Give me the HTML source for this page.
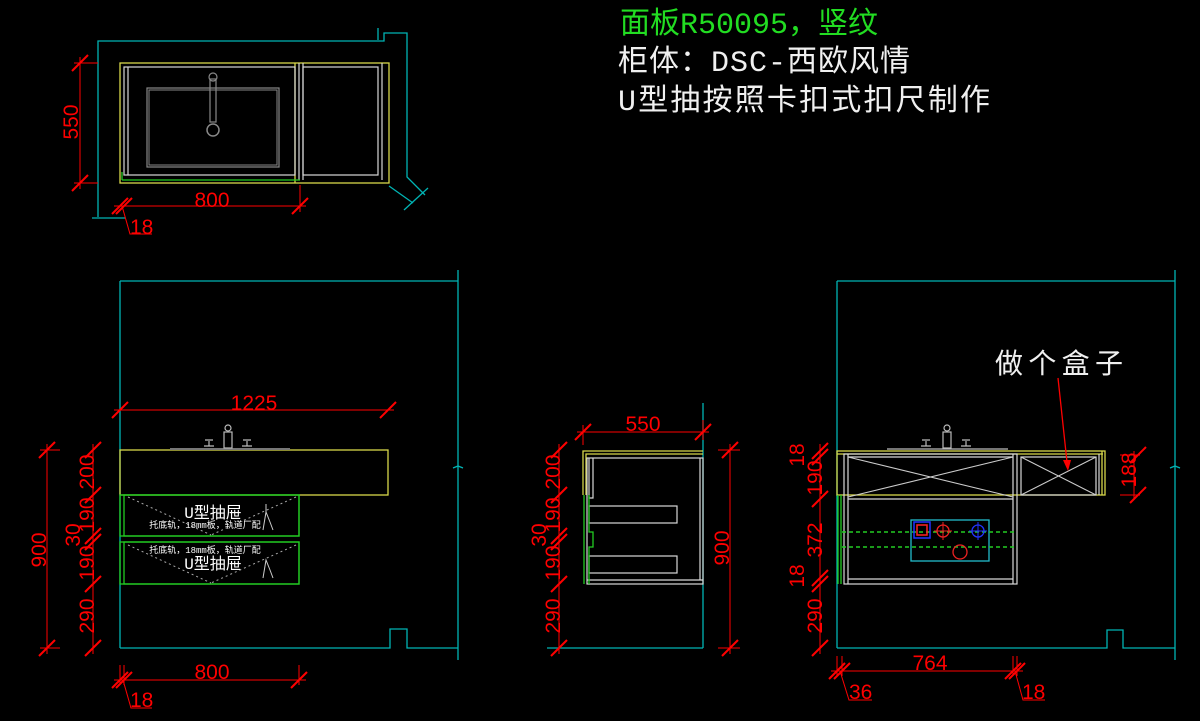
<!DOCTYPE html>
<html><head><meta charset="utf-8"><style>
html,body{margin:0;padding:0;background:#000;}
svg{display:block}
.r{stroke:#ff0000;stroke-width:1;fill:none}
.c{stroke:#00b4b4;stroke-width:1.3;fill:none}
.y{stroke:#d8d84a;stroke-width:1.3;fill:none}
.g{stroke:#22cc22;stroke-width:1.3;fill:none}
.w{stroke:#d8d8d8;stroke-width:1.2;fill:none}
.dt{fill:#ff0000;font-family:"Liberation Sans",sans-serif;font-size:21px}
.cn{font-family:"Liberation Mono","Noto Sans CJK SC",monospace;}
</style></head><body>
<svg width="1200" height="721" viewBox="0 0 1200 721" xmlns="http://www.w3.org/2000/svg">
<defs><g id="t"><line x1="-8" y1="8" x2="8" y2="-8" stroke="#ff0000" stroke-width="2"/></g></defs>

<!-- Title text -->
<text x="620" y="33" class="cn" font-size="30" fill="#22dd22" textLength="258">面板R50095，竖纹</text>
<text x="618" y="71" class="cn" font-size="30" fill="#f0f0f0" textLength="292">柜体：DSC-西欧风情</text>
<text x="618" y="110" class="cn" font-size="30" fill="#f0f0f0" textLength="372">U型抽按照卡扣式扣尺制作</text>

<!-- ===== Top plan ===== -->
<polyline class="c" points="98,217 98,41 384,41 384,33 407,33 407,177 425,195"/>
<line class="c" x1="389" y1="186" x2="413" y2="203"/>
<line class="c" x1="404" y1="210" x2="428" y2="188"/>
<line class="c" x1="92" y1="218" x2="125" y2="218"/>
<line class="c" x1="378" y1="28" x2="378" y2="40"/>
<rect class="y" x="120" y="63" width="269" height="120"/>
<line class="y" x1="295" y1="63" x2="295" y2="183"/>
<rect class="w" x="124" y="67" width="171" height="108"/>
<line class="w" x1="128" y1="67" x2="128" y2="175"/>
<line class="w" x1="299" y1="63" x2="299" y2="180"/>
<line class="w" x1="303" y1="63" x2="303" y2="180"/>
<rect class="w" x="303" y="67" width="75" height="108"/>
<line class="w" x1="382" y1="63" x2="382" y2="180"/>
<rect x="147" y="88" width="132" height="79" fill="none" stroke="#888" stroke-width="1.2"/>
<rect x="149" y="90" width="128" height="75" fill="none" stroke="#888" stroke-width="1"/>
<circle cx="213" cy="77" r="4" fill="none" stroke="#888" stroke-width="1.2"/>
<rect x="210" y="79" width="6" height="43" fill="none" stroke="#888" stroke-width="1.2"/>
<circle cx="213" cy="130" r="6" fill="none" stroke="#888" stroke-width="1.5"/>
<line class="g" x1="122" y1="180" x2="300" y2="180"/>
<line class="g" x1="122" y1="172" x2="122" y2="180"/>
<!-- 550 dim -->
<line class="r" x1="80" y1="57" x2="80" y2="189"/>
<line class="r" x1="74" y1="63" x2="98" y2="63"/>
<line class="r" x1="74" y1="183" x2="98" y2="183"/>
<use href="#t" x="80" y="63"/><use href="#t" x="80" y="183"/>
<text class="dt" transform="translate(78,122) rotate(-90)" text-anchor="middle">550</text>
<!-- 800 dim -->
<line class="r" x1="114" y1="206" x2="306" y2="206"/>
<line class="r" x1="300" y1="185" x2="300" y2="212"/>
<use href="#t" x="120" y="206"/><use href="#t" x="124" y="206"/><use href="#t" x="300" y="206"/>
<text class="dt" x="212" y="207" text-anchor="middle">800</text>
<polyline class="r" points="122,206 130,234 152,234"/>
<text class="dt" x="130" y="234" font-size="19">18</text>

<!-- ===== Left elevation ===== -->
<polyline class="c" points="120,281 458,281"/>
<line class="c" x1="120" y1="281" x2="120" y2="648"/>
<polyline class="c" points="120,648 390,648 390,629 407,629 407,648 458,648"/>
<line class="c" x1="458" y1="270" x2="458" y2="660"/>
<polyline class="c" points="453,468 458,466 463,468"/>
<rect class="y" x="120" y="450" width="268" height="45"/>
<line x1="170" y1="449" x2="290" y2="449" stroke="#777" stroke-width="2"/>
<g stroke="#bbb" fill="none" stroke-width="1.2">
<rect x="224" y="432" width="8" height="16"/><circle cx="228" cy="428" r="3"/>
<path d="M204,446 h10 M209,446 v-5 M205,440 h8"/><path d="M242,446 h10 M247,446 v-5 M243,440 h8"/>
</g>
<rect class="g" x="120" y="495" width="179" height="41"/>
<rect class="g" x="124" y="495" width="175" height="41"/>
<rect class="g" x="120" y="542" width="179" height="42"/>
<rect class="g" x="124" y="542" width="175" height="42"/>
<g stroke="#aaa" stroke-dasharray="2,3" stroke-width="1">
<line x1="128" y1="497" x2="211" y2="535"/><line x1="296" y1="497" x2="211" y2="535"/>
<line x1="128" y1="545" x2="211" y2="583"/><line x1="296" y1="545" x2="211" y2="583"/>
</g>
<text x="213" y="518" text-anchor="middle" class="cn" font-size="16" fill="#fff">U型抽屉</text>
<text x="205" y="528" text-anchor="middle" class="cn" font-size="9" fill="#fff">托底轨，18mm板，轨道厂配</text>
<text x="205" y="553" text-anchor="middle" class="cn" font-size="9" fill="#fff">托底轨，18mm板，轨道厂配</text>
<text x="213" y="569" text-anchor="middle" class="cn" font-size="16" fill="#fff">U型抽屉</text>
<path d="M263,530 l3,-18 l4,10 l3,8 M266,512 v-8" stroke="#ccc" fill="none"/>
<path d="M263,578 l3,-18 l4,10 l3,8" stroke="#ccc" fill="none"/>
<!-- dims left -->
<line class="r" x1="47" y1="444" x2="47" y2="654"/>
<use href="#t" x="47" y="450"/><use href="#t" x="47" y="648"/>
<line class="r" x1="40" y1="450" x2="60" y2="450"/><line class="r" x1="40" y1="648" x2="60" y2="648"/>
<text class="dt" transform="translate(46,550) rotate(-90)" text-anchor="middle">900</text>
<line class="r" x1="93" y1="444" x2="93" y2="654"/>
<use href="#t" x="93" y="450"/><use href="#t" x="93" y="495"/><use href="#t" x="93" y="536"/><use href="#t" x="93" y="542"/><use href="#t" x="93" y="584"/><use href="#t" x="93" y="648"/>
<text class="dt" transform="translate(94,472) rotate(-90)" text-anchor="middle">200</text>
<text class="dt" transform="translate(94,515) rotate(-90)" text-anchor="middle">190</text>
<text class="dt" transform="translate(80,535) rotate(-90)" text-anchor="middle">30</text>
<text class="dt" transform="translate(94,563) rotate(-90)" text-anchor="middle">190</text>
<text class="dt" transform="translate(94,616) rotate(-90)" text-anchor="middle">290</text>
<!-- 1225 -->
<line class="r" x1="114" y1="410" x2="394" y2="410"/>
<use href="#t" x="120" y="410"/><use href="#t" x="388" y="410"/>
<text class="dt" x="254" y="410" text-anchor="middle">1225</text>
<!-- 800 -->
<line class="r" x1="114" y1="680" x2="306" y2="680"/>
<line class="r" x1="120" y1="665" x2="120" y2="685"/><line class="r" x1="124" y1="665" x2="124" y2="685"/>
<line class="r" x1="299" y1="665" x2="299" y2="685"/>
<use href="#t" x="120" y="680"/><use href="#t" x="124" y="680"/><use href="#t" x="299" y="680"/>
<text class="dt" x="212" y="679" text-anchor="middle">800</text>
<polyline class="r" points="123,680 131,708 152,708"/>
<text class="dt" x="130" y="707" font-size="19">18</text>

<!-- ===== Middle side view ===== -->
<line class="c" x1="703" y1="403" x2="703" y2="648"/>
<line class="c" x1="547" y1="648" x2="703" y2="648"/>
<polyline class="y" points="583,495 583,451 703,451"/>
<polyline class="y" points="586,495 586,454 703,454"/>
<rect class="w" x="587" y="458" width="116" height="126"/>
<line class="w" x1="700" y1="458" x2="700" y2="580"/>
<line class="w" x1="587" y1="580" x2="703" y2="580"/>
<polyline class="w" points="589,458 589,498 593,498 593,458"/>
<rect class="w" x="589" y="506" width="88" height="17"/>
<rect class="w" x="589" y="556" width="88" height="17"/>
<line class="g" x1="584" y1="495" x2="584" y2="584"/>
<polyline class="g" points="589,495 589,532 593,532 593,547 589,547 589,584"/>
<line class="r" x1="577" y1="432" x2="709" y2="432"/>
<line class="r" x1="583" y1="425" x2="583" y2="445"/><line class="r" x1="703" y1="420" x2="703" y2="440"/>
<use href="#t" x="583" y="432"/><use href="#t" x="703" y="432"/>
<text class="dt" x="643" y="431" text-anchor="middle">550</text>
<line class="r" x1="730" y1="444" x2="730" y2="654"/>
<line class="r" x1="718" y1="450" x2="740" y2="450"/><line class="r" x1="718" y1="648" x2="740" y2="648"/>
<use href="#t" x="730" y="450"/><use href="#t" x="730" y="648"/>
<text class="dt" transform="translate(729,548) rotate(-90)" text-anchor="middle">900</text>
<line class="r" x1="559" y1="444" x2="559" y2="654"/>
<use href="#t" x="559" y="450"/><use href="#t" x="559" y="495"/><use href="#t" x="559" y="536"/><use href="#t" x="559" y="542"/><use href="#t" x="559" y="584"/><use href="#t" x="559" y="648"/>
<text class="dt" transform="translate(560,472) rotate(-90)" text-anchor="middle">200</text>
<text class="dt" transform="translate(560,515) rotate(-90)" text-anchor="middle">190</text>
<text class="dt" transform="translate(546,535) rotate(-90)" text-anchor="middle">30</text>
<text class="dt" transform="translate(560,563) rotate(-90)" text-anchor="middle">190</text>
<text class="dt" transform="translate(560,616) rotate(-90)" text-anchor="middle">290</text>

<!-- ===== Right elevation ===== -->
<line class="c" x1="837" y1="281" x2="1175" y2="281"/>
<line class="c" x1="837" y1="281" x2="837" y2="648"/>
<polyline class="c" points="837,648 1107,648 1107,630 1123,630 1123,648 1175,648"/>
<line class="c" x1="1175" y1="270" x2="1175" y2="660"/>
<polyline class="c" points="1170,468 1175,466 1180,468"/>
<rect class="y" x="837" y="451" width="268" height="44"/>
<line class="y" x1="837" y1="454" x2="1103" y2="454"/>
<line class="y" x1="1102" y1="451" x2="1102" y2="495"/>
<line class="g" x1="838" y1="495" x2="838" y2="584"/>
<line class="g" x1="841" y1="495" x2="841" y2="584"/>
<rect class="w" x="844" y="454" width="173" height="130"/>
<line class="w" x1="1013" y1="454" x2="1013" y2="584"/>
<line class="w" x1="848" y1="454" x2="848" y2="584"/>
<line class="w" x1="848" y1="579" x2="1013" y2="579"/>
<line class="w" x1="848" y1="499" x2="1013" y2="499"/>
<line class="w" x1="848" y1="457" x2="1013" y2="457"/>
<line x1="848" y1="457" x2="1013" y2="497" stroke="#ccc"/>
<line x1="848" y1="497" x2="1013" y2="457" stroke="#ccc"/>
<rect class="w" x="1021" y="457" width="75" height="38"/>
<line x1="1021" y1="457" x2="1096" y2="495" stroke="#ccc"/>
<line x1="1021" y1="495" x2="1096" y2="457" stroke="#ccc"/>
<line class="w" x1="1099" y1="454" x2="1099" y2="495"/>
<g stroke="#bbb" fill="none" stroke-width="1.2">
<line x1="887" y1="449" x2="1008" y2="449"/>
<rect x="943" y="432" width="8" height="16"/><circle cx="947" cy="428" r="3"/>
<path d="M921,446 h10 M926,446 v-5 M922,440 h8"/><path d="M961,446 h10 M966,446 v-5 M962,440 h8"/>
</g>
<rect x="911" y="520" width="78" height="41" fill="none" stroke="#22bbcc" stroke-width="1.3"/>
<line x1="842" y1="532" x2="1017" y2="532" stroke="#22cc22" stroke-width="1.5" stroke-dasharray="4,3"/>
<line x1="842" y1="547" x2="1017" y2="547" stroke="#22cc22" stroke-width="1.5" stroke-dasharray="4,3"/>
<rect x="914" y="522" width="16" height="16" fill="none" stroke="#2233ff" stroke-width="1.5"/>
<rect x="917" y="525" width="10" height="10" fill="none" stroke="#ff2222" stroke-width="1.5"/>
<circle cx="943" cy="531" r="6" fill="none" stroke="#ee2222" stroke-width="1.3"/>
<path d="M934,531 h18 M943,522 v18" stroke="#ee2222"/>
<circle cx="978" cy="531" r="6" fill="none" stroke="#2233ff" stroke-width="1.3"/>
<path d="M969,531 h18 M978,522 v18" stroke="#2233ff"/>
<circle cx="960" cy="552" r="7" fill="none" stroke="#ee2222" stroke-width="1.3"/>
<!-- dims -->
<line class="r" x1="820" y1="444" x2="820" y2="654"/>
<use href="#t" x="820" y="451"/><use href="#t" x="820" y="457"/><use href="#t" x="820" y="499"/><use href="#t" x="820" y="578"/><use href="#t" x="820" y="584"/><use href="#t" x="820" y="648"/>
<text class="dt" transform="translate(804,455) rotate(-90)" text-anchor="middle">18</text>
<text class="dt" transform="translate(822,478) rotate(-90)" text-anchor="middle">190</text>
<text class="dt" transform="translate(822,540) rotate(-90)" text-anchor="middle">372</text>
<text class="dt" transform="translate(804,576) rotate(-90)" text-anchor="middle">18</text>
<text class="dt" transform="translate(822,616) rotate(-90)" text-anchor="middle">290</text>
<line class="r" x1="1134" y1="451" x2="1134" y2="499"/>
<use href="#t" x="1138" y="455"/><use href="#t" x="1138" y="495"/>
<line class="r" x1="1120" y1="455" x2="1140" y2="455"/><line class="r" x1="1120" y1="495" x2="1140" y2="495"/>
<text class="dt" transform="translate(1136,470) rotate(-90)" text-anchor="middle">188</text>
<line class="r" x1="831" y1="671" x2="1023" y2="671"/>
<line class="r" x1="837" y1="656" x2="837" y2="676"/><line class="r" x1="842" y1="656" x2="842" y2="676"/>
<line class="r" x1="1013" y1="656" x2="1013" y2="676"/><line class="r" x1="1017" y1="656" x2="1017" y2="676"/>
<use href="#t" x="837" y="671"/><use href="#t" x="842" y="671"/><use href="#t" x="1013" y="671"/><use href="#t" x="1017" y="671"/>
<text class="dt" x="930" y="670" text-anchor="middle">764</text>
<polyline class="r" points="840,671 849,700 872,700"/>
<text class="dt" x="849" y="699" font-size="19">36</text>
<polyline class="r" points="1015,671 1023,700 1045,700"/>
<text class="dt" x="1022" y="699" font-size="19">18</text>
<!-- annotation -->
<text x="995" y="373" class="cn" font-size="28" fill="#f0f0f0" textLength="128">做个盒子</text>
<line x1="1058" y1="378" x2="1067" y2="462" stroke="#ff0000" stroke-width="1.3"/>
<polygon points="1063,460 1071,460 1068,471" fill="#ff0000"/>
</svg>
</body></html>
